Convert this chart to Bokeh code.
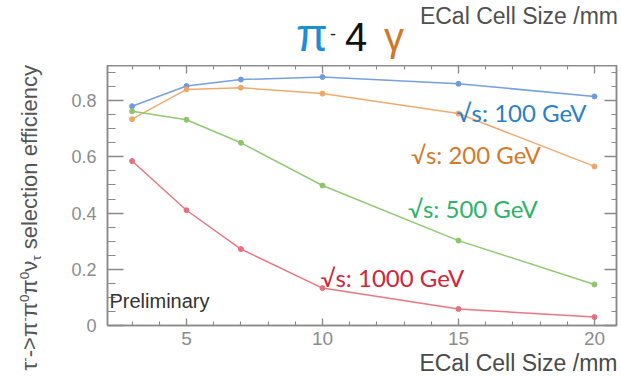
from bokeh.plotting import figure
from bokeh.models import Range1d, SingleIntervalTicker, LinearAxis, Label, Title, Div
from bokeh.layouts import column, row
from bokeh.embed import file_html
from bokeh.resources import INLINE

# ---- data ----
cell_size = [3, 5, 7, 10, 15, 20]
eff_100 = [0.780, 0.852, 0.875, 0.884, 0.860, 0.815]
eff_200 = [0.734, 0.840, 0.846, 0.825, 0.754, 0.566]
eff_500 = [0.762, 0.732, 0.650, 0.498, 0.302, 0.146]
eff_1000 = [0.585, 0.410, 0.272, 0.133, 0.059, 0.030]

series_labels = ["\u221as: 100 GeV", "\u221as: 200 GeV", "\u221as: 500 GeV", "\u221as: 1000 GeV"]
label_x = [17.32, 15.64, 15.53, 12.57]
label_y = [0.758, 0.607, 0.416, 0.171]

line_colors = ["#6f9bdc", "#eea766", "#8cc66c", "#e8707e"]
text_colors = ["#2a80c8", "#d4782a", "#2db36a", "#d0253a"]

y_ticks_override = {0: "0", 0.2: "0.2", 0.4: "0.4", 0.6: "0.6", 0.8: "0.8"}

x_title = "ECal Cell Size /mm"
y_title_html = ("\u03c4<sup>-</sup>-&gt;\u03c0<sup>-</sup>\u03c0<sup>0</sup>\u03c0<sup>0</sup>"
                "\u03bd<sub>\u03c4</sub> selection efficiency")

AX = "#8a8a8a"
TICKTXT = "#8c8c8c"
FONT = "Liberation Sans"

# ---------- top strip (title) as HTML text ----------
top_html = (
    '<div style="position:relative;width:621px;height:65px;'
    "font-family:'Liberation Sans',Arial,sans-serif;line-height:1;\">"
    '<span style="position:absolute;left:296px;top:12px;font-size:46px;color:#1a8fd6;">\u03c0</span>'
    '<span style="position:absolute;left:330px;top:25px;font-size:18px;color:#222;">-</span>'
    '<span style="position:absolute;left:345px;top:17px;font-size:40px;color:#111;">4</span>'
    '<span style="position:absolute;left:384px;top:17px;font-size:40px;color:#d2782a;">\u03b3</span>'
    '<span style="position:absolute;right:3px;top:5px;font-size:23px;color:#505050;white-space:nowrap;">'
    + x_title + '</span></div>'
)
top = Div(text=top_html, width=621, height=65, margin=0)

# ---------- left strip (rotated y title) ----------
left_html = (
    '<div style="position:relative;width:60px;height:312px;'
    "font-family:'Liberation Sans',Arial,sans-serif;line-height:1;\">"
    '<style>sup{font-size:0.62em;vertical-align:baseline;position:relative;top:-0.62em;}'
    'sub{font-size:0.62em;vertical-align:baseline;position:relative;top:0.28em;}</style>'
    '<span style="position:absolute;right:40.6px;top:0px;font-size:22px;color:#555;'
    'white-space:nowrap;transform:rotate(-90deg);transform-origin:right top;">'
    + y_title_html + '</span></div>'
)
left = Div(text=left_html, width=60, height=312, margin=0)

# ---------- main plot ----------
p = figure(width=561, height=312,
           min_border_left=47, min_border_right=5, min_border_top=0, min_border_bottom=52,
           x_range=Range1d(2.096, 20.81), y_range=Range1d(0, 0.925),
           output_backend="svg", toolbar_location=None,
           x_axis_type=None, y_axis_type=None, margin=0)
p.xgrid.visible = False
p.ygrid.visible = False
p.outline_line_color = AX
p.outline_line_width = 1.5


def style_axis(ax, show_labels, tin, tmin, fsize, standoff):
    ax.major_tick_in = tin
    ax.major_tick_out = 0
    ax.minor_tick_in = tmin
    ax.minor_tick_out = 0
    ax.axis_line_color = AX
    ax.axis_line_width = 1.5
    ax.major_tick_line_color = AX
    ax.minor_tick_line_color = AX
    ax.major_tick_line_width = 1.3
    ax.minor_tick_line_width = 1.1
    if show_labels:
        ax.major_label_text_font = FONT
        ax.major_label_text_font_size = fsize
        ax.major_label_text_color = TICKTXT
        ax.major_label_standoff = standoff
    else:
        ax.major_label_text_font_size = "0px"
        ax.major_label_standoff = 0
    return ax


xb = style_axis(LinearAxis(ticker=SingleIntervalTicker(interval=5, num_minor_ticks=5)),
                True, 7, 4, "19px", 6)
xt = style_axis(LinearAxis(ticker=SingleIntervalTicker(interval=5, num_minor_ticks=5)),
                False, 8, 4, "0px", 0)
yl = style_axis(LinearAxis(ticker=SingleIntervalTicker(interval=0.2, num_minor_ticks=4)),
                True, 16, 8, "18px", 11)
yl.major_label_overrides = y_ticks_override
yr = style_axis(LinearAxis(ticker=SingleIntervalTicker(interval=0.2, num_minor_ticks=4)),
                False, 12, 5, "0px", 0)
p.add_layout(xb, "below")
p.add_layout(xt, "above")
p.add_layout(yl, "left")
p.add_layout(yr, "right")

p.add_layout(Title(text=x_title, align="right", text_font=FONT, text_font_size="23px",
                   text_font_style="normal", text_color="#4a4a4a", standoff=0, offset=-1),
             "below")

for ys, lc in zip([eff_100, eff_200, eff_500, eff_1000], line_colors):
    p.line(cell_size, ys, line_color=lc, line_width=1.5, line_alpha=0.95)
    p.scatter(cell_size, ys, size=5, fill_color=lc, line_color=lc)

for txt, lx, ly, tc in zip(series_labels, label_x, label_y, text_colors):
    p.add_layout(Label(x=lx, y=ly, text=txt, text_color=tc, text_font="Lato",
                       text_font_size="24px", text_align="center",
                       text_baseline="middle"))

p.add_layout(Label(x=2, y=25, x_units="screen", y_units="screen", text="Preliminary",
                   text_font=FONT, text_font_size="20px", text_color="#333333",
                   text_baseline="middle"))

layout = column(top, row(left, p, spacing=0), spacing=0)
open("out.html", "w").write(file_html(layout, INLINE))
